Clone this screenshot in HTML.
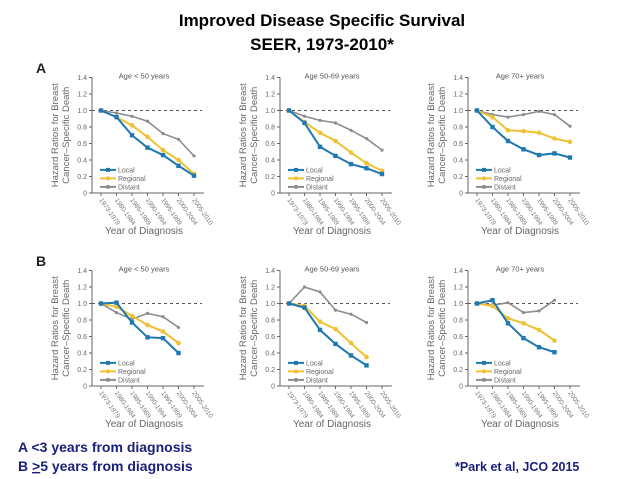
<!DOCTYPE html>
<html><head><meta charset="utf-8">
<style>
body{margin:0;background:#fff;width:638px;height:479px;overflow:hidden;font-family:"Liberation Sans",sans-serif}
svg{display:block}
</style></head>
<body>
<svg id="c" width="638" height="479">
<text x="322" y="26" text-anchor="middle" font-size="17" font-weight="bold" fill="#000">Improved Disease Specific Survival</text>
<text x="322" y="50" text-anchor="middle" font-size="17" font-weight="bold" fill="#000">SEER, 1973-2010*</text>
<text x="36" y="73" font-size="14" font-weight="bold" fill="#222">A</text>
<text x="36" y="266" font-size="14" font-weight="bold" fill="#222">B</text>
<text x="18" y="452" font-size="14" font-weight="bold" fill="#1a1f7a">A &lt;3 years from diagnosis</text>
<text x="18" y="471" font-size="14" font-weight="bold" fill="#1a1f7a">B <tspan text-decoration="underline">&gt;</tspan>5 years from diagnosis</text>
<text x="455" y="471" font-size="12.5" font-weight="bold" fill="#1a1f7a">*Park et al, JCO 2015</text>
</svg>
<script>
const categories=["1973-1979","1980-1984","1985-1989","1990-1994","1995-1999","2000-2004","2005-2010"];
const yTicks=[0,0.2,0.4,0.6,0.8,1.0,1.2,1.4];
const yTickLabels=["0","0.2","0.4","0.6","0.8","1.0","1.2","1.4"];
const panelTitles=["Age < 50 years","Age 50-69 years","Age 70+ years","Age < 50 years","Age 50-69 years","Age 70+ years"];
const seriesNames=["Local","Regional","Distant"];
const localA1=[1.0,0.92,0.70,0.55,0.46,0.33,0.21];
const regionalA1=[1.0,0.92,0.82,0.68,0.52,0.40,0.23];
const distantA1=[1.0,0.97,0.93,0.87,0.72,0.65,0.45];
const localA2=[1.0,0.85,0.56,0.45,0.35,0.30,0.23];
const regionalA2=[1.0,0.86,0.73,0.63,0.49,0.36,0.27];
const distantA2=[1.0,0.93,0.88,0.85,0.76,0.66,0.52];
const localA3=[1.0,0.80,0.63,0.53,0.46,0.48,0.43];
const regionalA3=[1.0,0.92,0.76,0.75,0.73,0.66,0.62];
const distantA3=[1.0,0.95,0.92,0.95,0.99,0.95,0.81];
const localB1=[1.0,1.01,0.77,0.59,0.58,0.40];
const regionalB1=[1.0,0.96,0.85,0.74,0.66,0.52];
const distantB1=[1.0,0.89,0.81,0.88,0.84,0.71];
const localB2=[1.0,0.95,0.68,0.51,0.37,0.25];
const regionalB2=[1.0,0.97,0.78,0.69,0.52,0.35];
const distantB2=[1.0,1.20,1.14,0.92,0.87,0.77];
const localB3=[1.0,1.04,0.76,0.58,0.47,0.41];
const regionalB3=[1.0,0.97,0.82,0.76,0.68,0.55];
const distantB3=[1.0,0.98,1.01,0.89,0.91,1.04];

const panels=[[localA1,regionalA1,distantA1],[localA2,regionalA2,distantA2],[localA3,regionalA3,distantA3],
[localB1,regionalB1,distantB1],[localB2,regionalB2,distantB2],[localB3,regionalB3,distantB3]];
const colors=["#1f78b0","#f0c132","#8c8c8c"];
const svg=document.getElementById('c');
const NS="http://www.w3.org/2000/svg";
function mk(tag,attrs,parent){const e=document.createElementNS(NS,tag);for(const k in attrs)e.setAttribute(k,attrs[k]);(parent||svg).appendChild(e);return e;}
const axX=[92,280,468], zeroY=[193,386];
const pxPerUnit=82.5, step=15.5;
panels.forEach((series,pi)=>{
  const col=pi%3,row=Math.floor(pi/3);
  const ax=axX[col],y0=zeroY[row];
  const g=mk('g',{});
  
  
  const xs=i=>ax+9+i*step;
  const ys=v=>y0-v*pxPerUnit;
  // axes
  const ya=mk('line',{x1:ax,y1:ys(1.4),x2:ax,y2:y0,stroke:'#666','stroke-width':1},g);
  
  const xa=mk('line',{x1:ax,y1:y0,x2:xs(6)+10,y2:y0,stroke:'#666','stroke-width':1},g);
  
  yTicks.forEach((t,i)=>{
    mk('line',{x1:ax-3,y1:ys(t),x2:ax,y2:ys(t),stroke:'#666'},g);
    const tl=mk('text',{x:ax-5,y:ys(t)+2.5,'text-anchor':'end','font-size':7,fill:'#666'},g);
    tl.textContent=yTickLabels[i];
    
  });
  categories.forEach((c,i)=>{
    mk('line',{x1:xs(i),y1:y0,x2:xs(i),y2:y0+3,stroke:'#666'},g);
    const tl=mk('text',{x:xs(i)-2,y:y0+7,'font-size':6.5,fill:'#777',transform:`rotate(55 ${xs(i)-2} ${y0+7})`},g);
    tl.textContent=c;
    
  });
  const ref=mk('line',{x1:ax,y1:ys(1),x2:xs(6)+8,y2:ys(1),stroke:'#555','stroke-dasharray':'3,3'},g);
  
  const tt=mk('text',{x:ax+52,y:ys(1.4)+1,'text-anchor':'middle','font-size':7.5,fill:'#555'},g);
  tt.textContent=panelTitles[pi];
  
  const yt=mk('text',{'text-anchor':'middle','font-size':9.5,fill:'#666',transform:`translate(${ax-34} ${ys(0.7)}) rotate(-90)`},g);
  
  const t1=mk('tspan',{x:0,y:0},yt);t1.textContent='Hazard Ratios for Breast';
  const t2=mk('tspan',{x:0,y:11},yt);t2.textContent='Cancer–Specific Death';
  const xt=mk('text',{x:ax+52,y:y0+41,'text-anchor':'middle','font-size':10,fill:'#666'},g);
  xt.textContent='Year of Diagnosis';
  
  // series, drawn distant first
  [2,1,0].forEach(si=>{
    const vals=series[si];
    const pl=mk('polyline',{points:vals.map((v,i)=>xs(i)+','+ys(v)).join(' '),fill:'none',stroke:colors[si],'stroke-width':si==2?1.6:2},g);
    
    
    vals.forEach((v,i)=>{
      const m=si==0?mk('rect',{x:xs(i)-2.2,y:ys(v)-2.2,width:4.4,height:4.4,fill:colors[si]},g)
        :mk('circle',{cx:xs(i),cy:ys(v),r:si==1?2.3:1.6,fill:colors[si]},g);
      
      
    });
  });
  // legend
  seriesNames.forEach((n,si)=>{
    const ly=ys(0.28)+si*8.5;
    const le=mk('g',{},g);
    
    
    mk('line',{x1:ax+8,y1:ly,x2:ax+24,y2:ly,stroke:colors[si],'stroke-width':2},le);
    if(si==0)mk('rect',{x:ax+14,y:ly-2,width:4,height:4,fill:colors[si]},le);
    else mk('circle',{cx:ax+16,cy:ly,r:2,fill:colors[si]},le);
    const lt=mk('text',{x:ax+26,y:ly+2.5,'font-size':7,fill:'#666'},le);
    lt.textContent=n;
  });
});
</script>
</body></html>
